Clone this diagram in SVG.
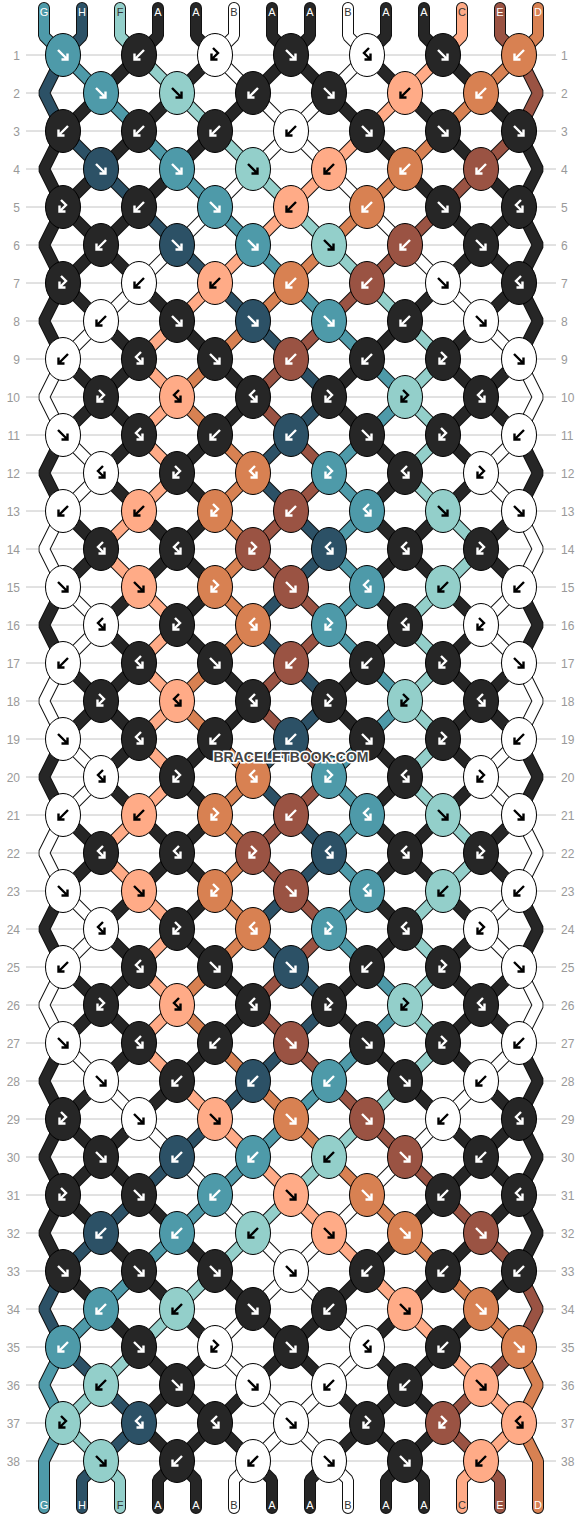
<svg xmlns="http://www.w3.org/2000/svg" xmlns:xlink="http://www.w3.org/1999/xlink" width="582" height="1516" viewBox="0 0 582 1516">
<style>
.ln{stroke:#c4c4c4;stroke-width:1;fill:none}
.rn{font-family:'Liberation Sans',Arial,sans-serif;font-size:12px;fill:#999}
.rl{text-anchor:end}
.tl{font-family:'Liberation Sans',Arial,sans-serif;font-size:11px;text-anchor:middle;fill:#fff}
.tl.d{fill:#333}
.so{fill:none;stroke:#111;stroke-width:12;stroke-linejoin:bevel;stroke-linecap:round}
.sf{fill:none;stroke-width:10;stroke-linejoin:bevel;stroke-linecap:round}
.T{fill:#4e9aa9;stroke:#fff}.N{fill:#2c5166;stroke:#fff}.L{fill:#93cfca;stroke:#000}.K{fill:#262626;stroke:#fff}
.W{fill:#fff;stroke:#000}.S{fill:#ffab87;stroke:#000}.R{fill:#9a5343;stroke:#fff}.O{fill:#d88152;stroke:#fff}
.wm{font-family:'Liberation Sans',Arial,sans-serif;font-weight:bold;font-size:14px;fill:#444;stroke:#fff;stroke-width:3;paint-order:stroke;text-anchor:middle}
</style>
<defs>
<ellipse id="e" rx="17.5" ry="21.5" stroke="#000" stroke-width="1"/>
<path id="f" d="M-5,-5L4.5,4.5M4.5,-1.5V4.5H-1.5" fill="none" stroke-width="2.4"/>
<path id="b" d="M5,-5L-4.5,4.5M-4.5,-1.5V4.5H1.5" fill="none" stroke-width="2.4"/>
<path id="l" d="M-2,-7L3,-2L-3.5,4.5M-3.5,-1.5V4.5H2.5" fill="none" stroke-width="2.4"/>
<path id="r" d="M2,-7L-3,-2L3.5,4.5M3.5,-1.5V4.5H-2.5" fill="none" stroke-width="2.4"/>
<path id="sT" d="M44,8V36L63,55 101,93 139,131 177,169 215,207 253,245 291,283 329,321 367,359 405,397 367,435 329,473 367,511 329,549 367,587 329,625 367,663 405,701 367,739 329,777 367,815 329,853 367,891 329,929 367,967 405,1005 367,1043 329,1081 291,1119 253,1157 215,1195 177,1233 139,1271 101,1309 63,1347 44,1385 63,1423 44,1461V1508"/>
<path id="sN" d="M82,8V36L63,55 44,93 63,131 101,169 139,207 177,245 215,283 253,321 291,359 329,397 291,435 253,473 291,511 329,549 291,587 253,625 291,663 329,701 291,739 253,777 291,815 329,853 291,891 253,929 291,967 329,1005 291,1043 253,1081 215,1119 177,1157 139,1195 101,1233 63,1271 44,1309 63,1347 101,1385 139,1423 101,1461 82,1480V1508"/>
<path id="sL" d="M120,8V36L139,55 177,93 215,131 253,169 291,207 329,245 367,283 405,321 443,359 405,397 443,435 405,473 443,511 481,549 443,587 405,625 443,663 405,701 443,739 405,777 443,815 481,853 443,891 405,929 443,967 405,1005 443,1043 405,1081 367,1119 329,1157 291,1195 253,1233 215,1271 177,1309 139,1347 101,1385 63,1423 101,1461 120,1480V1508"/>
<path id="sa1" d="M158,8V36L139,55 101,93 63,131 44,169 63,207 44,245 63,283 44,321 63,359 101,397 63,435 44,473 63,511 101,549 63,587 44,625 63,663 101,701 63,739 44,777 63,815 101,853 63,891 44,929 63,967 101,1005 63,1043 44,1081 63,1119 44,1157 63,1195 44,1233 63,1271 101,1309 139,1347 177,1385 215,1423 177,1461 158,1480V1508"/>
<path id="sa2" d="M196,8V36L215,55 177,93 139,131 101,169 63,207 101,245 139,283 177,321 215,359 253,397 215,435 177,473 215,511 177,549 215,587 177,625 215,663 253,701 215,739 177,777 215,815 177,853 215,891 177,929 215,967 253,1005 215,1043 177,1081 139,1119 101,1157 63,1195 101,1233 139,1271 177,1309 215,1347 177,1385 139,1423 177,1461 196,1480V1508"/>
<path id="sw1" d="M234,8V36L215,55 253,93 291,131 329,169 367,207 405,245 443,283 481,321 519,359 538,397 519,435 481,473 519,511 538,549 519,587 481,625 519,663 538,701 519,739 481,777 519,815 538,853 519,891 481,929 519,967 538,1005 519,1043 481,1081 443,1119 405,1157 367,1195 329,1233 291,1271 253,1309 215,1347 253,1385 291,1423 329,1461 348,1480V1508"/>
<path id="sa3" d="M272,8V36L291,55 329,93 367,131 405,169 443,207 481,245 519,283 481,321 443,359 481,397 443,435 481,473 443,511 405,549 443,587 481,625 443,663 481,701 443,739 481,777 443,815 405,853 443,891 481,929 443,967 481,1005 443,1043 481,1081 519,1119 481,1157 443,1195 405,1233 367,1271 329,1309 291,1347 253,1385 215,1423 253,1461 272,1480V1508"/>
<path id="sa4" d="M310,8V36L291,55 253,93 215,131 177,169 139,207 101,245 63,283 101,321 139,359 101,397 139,435 101,473 139,511 177,549 139,587 101,625 139,663 101,701 139,739 101,777 139,815 177,853 139,891 101,929 139,967 101,1005 139,1043 101,1081 63,1119 101,1157 139,1195 177,1233 215,1271 253,1309 291,1347 329,1385 367,1423 329,1461 310,1480V1508"/>
<path id="sw2" d="M348,8V36L367,55 329,93 291,131 253,169 215,207 177,245 139,283 101,321 63,359 44,397 63,435 101,473 63,511 44,549 63,587 101,625 63,663 44,701 63,739 101,777 63,815 44,853 63,891 101,929 63,967 44,1005 63,1043 101,1081 139,1119 177,1157 215,1195 253,1233 291,1271 329,1309 367,1347 329,1385 291,1423 253,1461 234,1480V1508"/>
<path id="sa5" d="M386,8V36L367,55 405,93 443,131 481,169 519,207 481,245 443,283 405,321 367,359 329,397 367,435 405,473 367,511 405,549 367,587 405,625 367,663 329,701 367,739 405,777 367,815 405,853 367,891 405,929 367,967 329,1005 367,1043 405,1081 443,1119 481,1157 519,1195 481,1233 443,1271 405,1309 367,1347 405,1385 443,1423 405,1461 386,1480V1508"/>
<path id="sa6" d="M424,8V36L443,55 481,93 519,131 538,169 519,207 538,245 519,283 538,321 519,359 481,397 519,435 538,473 519,511 481,549 519,587 538,625 519,663 481,701 519,739 538,777 519,815 481,853 519,891 538,929 519,967 481,1005 519,1043 538,1081 519,1119 538,1157 519,1195 538,1233 519,1271 481,1309 443,1347 405,1385 367,1423 405,1461 424,1480V1508"/>
<path id="sS" d="M462,8V36L443,55 405,93 367,131 329,169 291,207 253,245 215,283 177,321 139,359 177,397 139,435 177,473 139,511 101,549 139,587 177,625 139,663 177,701 139,739 177,777 139,815 101,853 139,891 177,929 139,967 177,1005 139,1043 177,1081 215,1119 253,1157 291,1195 329,1233 367,1271 405,1309 443,1347 481,1385 519,1423 481,1461 462,1480V1508"/>
<path id="sR" d="M500,8V36L519,55 538,93 519,131 481,169 443,207 405,245 367,283 329,321 291,359 253,397 291,435 329,473 291,511 253,549 291,587 329,625 291,663 253,701 291,739 329,777 291,815 253,853 291,891 329,929 291,967 253,1005 291,1043 329,1081 367,1119 405,1157 443,1195 481,1233 519,1271 538,1309 519,1347 481,1385 443,1423 481,1461 500,1480V1508"/>
<path id="sO" d="M538,8V36L519,55 481,93 443,131 405,169 367,207 329,245 291,283 253,321 215,359 177,397 215,435 253,473 215,511 253,549 215,587 253,625 215,663 177,701 215,739 253,777 215,815 253,853 215,891 253,929 215,967 177,1005 215,1043 253,1081 291,1119 329,1157 367,1195 405,1233 443,1271 481,1309 519,1347 538,1385 519,1423 538,1461V1508"/>
</defs>
<rect width="582" height="1516" fill="#fff"/>
<g id="rowlines">
<path class="ln" d="M26,55H556M26,93H556M26,131H556M26,169H556M26,207H556M26,245H556M26,283H556M26,321H556M26,359H556M26,397H556M26,435H556M26,473H556M26,511H556M26,549H556M26,587H556M26,625H556M26,663H556M26,701H556M26,739H556M26,777H556M26,815H556M26,853H556M26,891H556M26,929H556M26,967H556M26,1005H556M26,1043H556M26,1081H556M26,1119H556M26,1157H556M26,1195H556M26,1233H556M26,1271H556M26,1309H556M26,1347H556M26,1385H556M26,1423H556M26,1461H556"/>
</g>
<g id="rownumbers">
<g class="rn rl">
<text x="20" y="59.5">1</text><text x="20" y="97.5">2</text><text x="20" y="135.5">3</text><text x="20" y="173.5">4</text><text x="20" y="211.5">5</text><text x="20" y="249.5">6</text><text x="20" y="287.5">7</text><text x="20" y="325.5">8</text><text x="20" y="363.5">9</text><text x="20" y="401.5">10</text><text x="20" y="439.5">11</text><text x="20" y="477.5">12</text><text x="20" y="515.5">13</text><text x="20" y="553.5">14</text><text x="20" y="591.5">15</text><text x="20" y="629.5">16</text><text x="20" y="667.5">17</text><text x="20" y="705.5">18</text><text x="20" y="743.5">19</text><text x="20" y="781.5">20</text><text x="20" y="819.5">21</text><text x="20" y="857.5">22</text><text x="20" y="895.5">23</text><text x="20" y="933.5">24</text><text x="20" y="971.5">25</text><text x="20" y="1009.5">26</text><text x="20" y="1047.5">27</text><text x="20" y="1085.5">28</text><text x="20" y="1123.5">29</text><text x="20" y="1161.5">30</text><text x="20" y="1199.5">31</text><text x="20" y="1237.5">32</text><text x="20" y="1275.5">33</text><text x="20" y="1313.5">34</text><text x="20" y="1351.5">35</text><text x="20" y="1389.5">36</text><text x="20" y="1427.5">37</text><text x="20" y="1465.5">38</text>
</g>
<g class="rn">
<text x="561" y="59.5">1</text><text x="561" y="97.5">2</text><text x="561" y="135.5">3</text><text x="561" y="173.5">4</text><text x="561" y="211.5">5</text><text x="561" y="249.5">6</text><text x="561" y="287.5">7</text><text x="561" y="325.5">8</text><text x="561" y="363.5">9</text><text x="561" y="401.5">10</text><text x="561" y="439.5">11</text><text x="561" y="477.5">12</text><text x="561" y="515.5">13</text><text x="561" y="553.5">14</text><text x="561" y="591.5">15</text><text x="561" y="629.5">16</text><text x="561" y="667.5">17</text><text x="561" y="705.5">18</text><text x="561" y="743.5">19</text><text x="561" y="781.5">20</text><text x="561" y="819.5">21</text><text x="561" y="857.5">22</text><text x="561" y="895.5">23</text><text x="561" y="933.5">24</text><text x="561" y="971.5">25</text><text x="561" y="1009.5">26</text><text x="561" y="1047.5">27</text><text x="561" y="1085.5">28</text><text x="561" y="1123.5">29</text><text x="561" y="1161.5">30</text><text x="561" y="1199.5">31</text><text x="561" y="1237.5">32</text><text x="561" y="1275.5">33</text><text x="561" y="1313.5">34</text><text x="561" y="1351.5">35</text><text x="561" y="1389.5">36</text><text x="561" y="1427.5">37</text><text x="561" y="1465.5">38</text>
</g>
</g>
<g id="connectors">
<g class="so">
<use href="#sT"/><use href="#sN"/><use href="#sL"/><use href="#sa1"/><use href="#sa2"/><use href="#sw1"/><use href="#sa3"/><use href="#sa4"/><use href="#sw2"/><use href="#sa5"/><use href="#sa6"/><use href="#sS"/><use href="#sR"/><use href="#sO"/>
</g>
<g class="sf">
<use href="#sT" stroke="#4e9aa9"/><use href="#sN" stroke="#2c5166"/><use href="#sL" stroke="#93cfca"/><use href="#sa1" stroke="#262626"/><use href="#sa2" stroke="#262626"/><use href="#sw1" stroke="#ffffff"/><use href="#sa3" stroke="#262626"/><use href="#sa4" stroke="#262626"/><use href="#sw2" stroke="#ffffff"/><use href="#sa5" stroke="#262626"/><use href="#sa6" stroke="#262626"/><use href="#sS" stroke="#ffab87"/><use href="#sR" stroke="#9a5343"/><use href="#sO" stroke="#d88152"/>
</g>
</g>
<g id="stringlabels">
<text class="tl" x="44" y="16">G</text><text class="tl" x="82" y="16">H</text><text class="tl d" x="120" y="16">F</text><text class="tl" x="158" y="16">A</text><text class="tl" x="196" y="16">A</text><text class="tl d" x="234" y="16">B</text><text class="tl" x="272" y="16">A</text><text class="tl" x="310" y="16">A</text><text class="tl d" x="348" y="16">B</text><text class="tl" x="386" y="16">A</text><text class="tl" x="424" y="16">A</text><text class="tl d" x="462" y="16">C</text><text class="tl" x="500" y="16">E</text><text class="tl" x="538" y="16">D</text>
<text class="tl" x="44" y="1509">G</text><text class="tl" x="82" y="1509">H</text><text class="tl d" x="120" y="1509">F</text><text class="tl" x="158" y="1509">A</text><text class="tl" x="196" y="1509">A</text><text class="tl d" x="234" y="1509">B</text><text class="tl" x="272" y="1509">A</text><text class="tl" x="310" y="1509">A</text><text class="tl d" x="348" y="1509">B</text><text class="tl" x="386" y="1509">A</text><text class="tl" x="424" y="1509">A</text><text class="tl d" x="462" y="1509">C</text><text class="tl" x="500" y="1509">E</text><text class="tl" x="538" y="1509">D</text>
</g>
<g id="knots">
<g id="k1-1" class="T" transform="translate(63,55)"><use href="#e"/><use href="#f"/></g>
<g id="k1-2" class="K" transform="translate(139,55)"><use href="#e"/><use href="#b"/></g>
<g id="k1-3" class="W" transform="translate(215,55)"><use href="#e"/><use href="#l"/></g>
<g id="k1-4" class="K" transform="translate(291,55)"><use href="#e"/><use href="#f"/></g>
<g id="k1-5" class="W" transform="translate(367,55)"><use href="#e"/><use href="#r"/></g>
<g id="k1-6" class="K" transform="translate(443,55)"><use href="#e"/><use href="#f"/></g>
<g id="k1-7" class="O" transform="translate(519,55)"><use href="#e"/><use href="#b"/></g>
<g id="k2-1" class="T" transform="translate(101,93)"><use href="#e"/><use href="#f"/></g>
<g id="k2-2" class="L" transform="translate(177,93)"><use href="#e"/><use href="#f"/></g>
<g id="k2-3" class="K" transform="translate(253,93)"><use href="#e"/><use href="#b"/></g>
<g id="k2-4" class="K" transform="translate(329,93)"><use href="#e"/><use href="#f"/></g>
<g id="k2-5" class="S" transform="translate(405,93)"><use href="#e"/><use href="#b"/></g>
<g id="k2-6" class="O" transform="translate(481,93)"><use href="#e"/><use href="#b"/></g>
<g id="k3-1" class="K" transform="translate(63,131)"><use href="#e"/><use href="#b"/></g>
<g id="k3-2" class="K" transform="translate(139,131)"><use href="#e"/><use href="#b"/></g>
<g id="k3-3" class="K" transform="translate(215,131)"><use href="#e"/><use href="#b"/></g>
<g id="k3-4" class="W" transform="translate(291,131)"><use href="#e"/><use href="#b"/></g>
<g id="k3-5" class="K" transform="translate(367,131)"><use href="#e"/><use href="#f"/></g>
<g id="k3-6" class="K" transform="translate(443,131)"><use href="#e"/><use href="#f"/></g>
<g id="k3-7" class="K" transform="translate(519,131)"><use href="#e"/><use href="#f"/></g>
<g id="k4-1" class="N" transform="translate(101,169)"><use href="#e"/><use href="#f"/></g>
<g id="k4-2" class="T" transform="translate(177,169)"><use href="#e"/><use href="#f"/></g>
<g id="k4-3" class="L" transform="translate(253,169)"><use href="#e"/><use href="#f"/></g>
<g id="k4-4" class="S" transform="translate(329,169)"><use href="#e"/><use href="#b"/></g>
<g id="k4-5" class="O" transform="translate(405,169)"><use href="#e"/><use href="#b"/></g>
<g id="k4-6" class="R" transform="translate(481,169)"><use href="#e"/><use href="#b"/></g>
<g id="k5-1" class="K" transform="translate(63,207)"><use href="#e"/><use href="#l"/></g>
<g id="k5-2" class="K" transform="translate(139,207)"><use href="#e"/><use href="#b"/></g>
<g id="k5-3" class="T" transform="translate(215,207)"><use href="#e"/><use href="#f"/></g>
<g id="k5-4" class="S" transform="translate(291,207)"><use href="#e"/><use href="#b"/></g>
<g id="k5-5" class="O" transform="translate(367,207)"><use href="#e"/><use href="#b"/></g>
<g id="k5-6" class="K" transform="translate(443,207)"><use href="#e"/><use href="#f"/></g>
<g id="k5-7" class="K" transform="translate(519,207)"><use href="#e"/><use href="#r"/></g>
<g id="k6-1" class="K" transform="translate(101,245)"><use href="#e"/><use href="#b"/></g>
<g id="k6-2" class="N" transform="translate(177,245)"><use href="#e"/><use href="#f"/></g>
<g id="k6-3" class="T" transform="translate(253,245)"><use href="#e"/><use href="#f"/></g>
<g id="k6-4" class="L" transform="translate(329,245)"><use href="#e"/><use href="#f"/></g>
<g id="k6-5" class="R" transform="translate(405,245)"><use href="#e"/><use href="#b"/></g>
<g id="k6-6" class="K" transform="translate(481,245)"><use href="#e"/><use href="#f"/></g>
<g id="k7-1" class="K" transform="translate(63,283)"><use href="#e"/><use href="#l"/></g>
<g id="k7-2" class="W" transform="translate(139,283)"><use href="#e"/><use href="#b"/></g>
<g id="k7-3" class="S" transform="translate(215,283)"><use href="#e"/><use href="#b"/></g>
<g id="k7-4" class="O" transform="translate(291,283)"><use href="#e"/><use href="#b"/></g>
<g id="k7-5" class="R" transform="translate(367,283)"><use href="#e"/><use href="#b"/></g>
<g id="k7-6" class="W" transform="translate(443,283)"><use href="#e"/><use href="#f"/></g>
<g id="k7-7" class="K" transform="translate(519,283)"><use href="#e"/><use href="#r"/></g>
<g id="k8-1" class="W" transform="translate(101,321)"><use href="#e"/><use href="#b"/></g>
<g id="k8-2" class="K" transform="translate(177,321)"><use href="#e"/><use href="#f"/></g>
<g id="k8-3" class="N" transform="translate(253,321)"><use href="#e"/><use href="#f"/></g>
<g id="k8-4" class="T" transform="translate(329,321)"><use href="#e"/><use href="#f"/></g>
<g id="k8-5" class="K" transform="translate(405,321)"><use href="#e"/><use href="#b"/></g>
<g id="k8-6" class="W" transform="translate(481,321)"><use href="#e"/><use href="#f"/></g>
<g id="k9-1" class="W" transform="translate(63,359)"><use href="#e"/><use href="#b"/></g>
<g id="k9-2" class="K" transform="translate(139,359)"><use href="#e"/><use href="#r"/></g>
<g id="k9-3" class="K" transform="translate(215,359)"><use href="#e"/><use href="#f"/></g>
<g id="k9-4" class="R" transform="translate(291,359)"><use href="#e"/><use href="#b"/></g>
<g id="k9-5" class="K" transform="translate(367,359)"><use href="#e"/><use href="#b"/></g>
<g id="k9-6" class="K" transform="translate(443,359)"><use href="#e"/><use href="#l"/></g>
<g id="k9-7" class="W" transform="translate(519,359)"><use href="#e"/><use href="#f"/></g>
<g id="k10-1" class="K" transform="translate(101,397)"><use href="#e"/><use href="#l"/></g>
<g id="k10-2" class="S" transform="translate(177,397)"><use href="#e"/><use href="#r"/></g>
<g id="k10-3" class="K" transform="translate(253,397)"><use href="#e"/><use href="#r"/></g>
<g id="k10-4" class="K" transform="translate(329,397)"><use href="#e"/><use href="#l"/></g>
<g id="k10-5" class="L" transform="translate(405,397)"><use href="#e"/><use href="#l"/></g>
<g id="k10-6" class="K" transform="translate(481,397)"><use href="#e"/><use href="#r"/></g>
<g id="k11-1" class="W" transform="translate(63,435)"><use href="#e"/><use href="#f"/></g>
<g id="k11-2" class="K" transform="translate(139,435)"><use href="#e"/><use href="#r"/></g>
<g id="k11-3" class="K" transform="translate(215,435)"><use href="#e"/><use href="#b"/></g>
<g id="k11-4" class="N" transform="translate(291,435)"><use href="#e"/><use href="#b"/></g>
<g id="k11-5" class="K" transform="translate(367,435)"><use href="#e"/><use href="#f"/></g>
<g id="k11-6" class="K" transform="translate(443,435)"><use href="#e"/><use href="#l"/></g>
<g id="k11-7" class="W" transform="translate(519,435)"><use href="#e"/><use href="#b"/></g>
<g id="k12-1" class="W" transform="translate(101,473)"><use href="#e"/><use href="#r"/></g>
<g id="k12-2" class="K" transform="translate(177,473)"><use href="#e"/><use href="#l"/></g>
<g id="k12-3" class="O" transform="translate(253,473)"><use href="#e"/><use href="#r"/></g>
<g id="k12-4" class="T" transform="translate(329,473)"><use href="#e"/><use href="#l"/></g>
<g id="k12-5" class="K" transform="translate(405,473)"><use href="#e"/><use href="#r"/></g>
<g id="k12-6" class="W" transform="translate(481,473)"><use href="#e"/><use href="#l"/></g>
<g id="k13-1" class="W" transform="translate(63,511)"><use href="#e"/><use href="#b"/></g>
<g id="k13-2" class="S" transform="translate(139,511)"><use href="#e"/><use href="#b"/></g>
<g id="k13-3" class="O" transform="translate(215,511)"><use href="#e"/><use href="#l"/></g>
<g id="k13-4" class="R" transform="translate(291,511)"><use href="#e"/><use href="#b"/></g>
<g id="k13-5" class="T" transform="translate(367,511)"><use href="#e"/><use href="#r"/></g>
<g id="k13-6" class="L" transform="translate(443,511)"><use href="#e"/><use href="#f"/></g>
<g id="k13-7" class="W" transform="translate(519,511)"><use href="#e"/><use href="#f"/></g>
<g id="k14-1" class="K" transform="translate(101,549)"><use href="#e"/><use href="#r"/></g>
<g id="k14-2" class="K" transform="translate(177,549)"><use href="#e"/><use href="#r"/></g>
<g id="k14-3" class="R" transform="translate(253,549)"><use href="#e"/><use href="#l"/></g>
<g id="k14-4" class="N" transform="translate(329,549)"><use href="#e"/><use href="#r"/></g>
<g id="k14-5" class="K" transform="translate(405,549)"><use href="#e"/><use href="#r"/></g>
<g id="k14-6" class="K" transform="translate(481,549)"><use href="#e"/><use href="#l"/></g>
<g id="k15-1" class="W" transform="translate(63,587)"><use href="#e"/><use href="#f"/></g>
<g id="k15-2" class="S" transform="translate(139,587)"><use href="#e"/><use href="#f"/></g>
<g id="k15-3" class="O" transform="translate(215,587)"><use href="#e"/><use href="#l"/></g>
<g id="k15-4" class="R" transform="translate(291,587)"><use href="#e"/><use href="#f"/></g>
<g id="k15-5" class="T" transform="translate(367,587)"><use href="#e"/><use href="#r"/></g>
<g id="k15-6" class="L" transform="translate(443,587)"><use href="#e"/><use href="#b"/></g>
<g id="k15-7" class="W" transform="translate(519,587)"><use href="#e"/><use href="#b"/></g>
<g id="k16-1" class="W" transform="translate(101,625)"><use href="#e"/><use href="#r"/></g>
<g id="k16-2" class="K" transform="translate(177,625)"><use href="#e"/><use href="#l"/></g>
<g id="k16-3" class="O" transform="translate(253,625)"><use href="#e"/><use href="#r"/></g>
<g id="k16-4" class="T" transform="translate(329,625)"><use href="#e"/><use href="#l"/></g>
<g id="k16-5" class="K" transform="translate(405,625)"><use href="#e"/><use href="#r"/></g>
<g id="k16-6" class="W" transform="translate(481,625)"><use href="#e"/><use href="#l"/></g>
<g id="k17-1" class="W" transform="translate(63,663)"><use href="#e"/><use href="#b"/></g>
<g id="k17-2" class="K" transform="translate(139,663)"><use href="#e"/><use href="#r"/></g>
<g id="k17-3" class="K" transform="translate(215,663)"><use href="#e"/><use href="#f"/></g>
<g id="k17-4" class="R" transform="translate(291,663)"><use href="#e"/><use href="#b"/></g>
<g id="k17-5" class="K" transform="translate(367,663)"><use href="#e"/><use href="#b"/></g>
<g id="k17-6" class="K" transform="translate(443,663)"><use href="#e"/><use href="#l"/></g>
<g id="k17-7" class="W" transform="translate(519,663)"><use href="#e"/><use href="#f"/></g>
<g id="k18-1" class="K" transform="translate(101,701)"><use href="#e"/><use href="#l"/></g>
<g id="k18-2" class="S" transform="translate(177,701)"><use href="#e"/><use href="#r"/></g>
<g id="k18-3" class="K" transform="translate(253,701)"><use href="#e"/><use href="#r"/></g>
<g id="k18-4" class="K" transform="translate(329,701)"><use href="#e"/><use href="#l"/></g>
<g id="k18-5" class="L" transform="translate(405,701)"><use href="#e"/><use href="#l"/></g>
<g id="k18-6" class="K" transform="translate(481,701)"><use href="#e"/><use href="#r"/></g>
<g id="k19-1" class="W" transform="translate(63,739)"><use href="#e"/><use href="#f"/></g>
<g id="k19-2" class="K" transform="translate(139,739)"><use href="#e"/><use href="#r"/></g>
<g id="k19-3" class="K" transform="translate(215,739)"><use href="#e"/><use href="#b"/></g>
<g id="k19-4" class="N" transform="translate(291,739)"><use href="#e"/><use href="#b"/></g>
<g id="k19-5" class="K" transform="translate(367,739)"><use href="#e"/><use href="#f"/></g>
<g id="k19-6" class="K" transform="translate(443,739)"><use href="#e"/><use href="#l"/></g>
<g id="k19-7" class="W" transform="translate(519,739)"><use href="#e"/><use href="#b"/></g>
<g id="k20-1" class="W" transform="translate(101,777)"><use href="#e"/><use href="#r"/></g>
<g id="k20-2" class="K" transform="translate(177,777)"><use href="#e"/><use href="#l"/></g>
<g id="k20-3" class="O" transform="translate(253,777)"><use href="#e"/><use href="#r"/></g>
<g id="k20-4" class="T" transform="translate(329,777)"><use href="#e"/><use href="#l"/></g>
<g id="k20-5" class="K" transform="translate(405,777)"><use href="#e"/><use href="#r"/></g>
<g id="k20-6" class="W" transform="translate(481,777)"><use href="#e"/><use href="#l"/></g>
<g id="k21-1" class="W" transform="translate(63,815)"><use href="#e"/><use href="#b"/></g>
<g id="k21-2" class="S" transform="translate(139,815)"><use href="#e"/><use href="#b"/></g>
<g id="k21-3" class="O" transform="translate(215,815)"><use href="#e"/><use href="#l"/></g>
<g id="k21-4" class="R" transform="translate(291,815)"><use href="#e"/><use href="#b"/></g>
<g id="k21-5" class="T" transform="translate(367,815)"><use href="#e"/><use href="#r"/></g>
<g id="k21-6" class="L" transform="translate(443,815)"><use href="#e"/><use href="#f"/></g>
<g id="k21-7" class="W" transform="translate(519,815)"><use href="#e"/><use href="#f"/></g>
<g id="k22-1" class="K" transform="translate(101,853)"><use href="#e"/><use href="#r"/></g>
<g id="k22-2" class="K" transform="translate(177,853)"><use href="#e"/><use href="#r"/></g>
<g id="k22-3" class="R" transform="translate(253,853)"><use href="#e"/><use href="#l"/></g>
<g id="k22-4" class="N" transform="translate(329,853)"><use href="#e"/><use href="#r"/></g>
<g id="k22-5" class="K" transform="translate(405,853)"><use href="#e"/><use href="#r"/></g>
<g id="k22-6" class="K" transform="translate(481,853)"><use href="#e"/><use href="#l"/></g>
<g id="k23-1" class="W" transform="translate(63,891)"><use href="#e"/><use href="#f"/></g>
<g id="k23-2" class="S" transform="translate(139,891)"><use href="#e"/><use href="#f"/></g>
<g id="k23-3" class="O" transform="translate(215,891)"><use href="#e"/><use href="#l"/></g>
<g id="k23-4" class="R" transform="translate(291,891)"><use href="#e"/><use href="#f"/></g>
<g id="k23-5" class="T" transform="translate(367,891)"><use href="#e"/><use href="#r"/></g>
<g id="k23-6" class="L" transform="translate(443,891)"><use href="#e"/><use href="#b"/></g>
<g id="k23-7" class="W" transform="translate(519,891)"><use href="#e"/><use href="#b"/></g>
<g id="k24-1" class="W" transform="translate(101,929)"><use href="#e"/><use href="#r"/></g>
<g id="k24-2" class="K" transform="translate(177,929)"><use href="#e"/><use href="#l"/></g>
<g id="k24-3" class="O" transform="translate(253,929)"><use href="#e"/><use href="#r"/></g>
<g id="k24-4" class="T" transform="translate(329,929)"><use href="#e"/><use href="#l"/></g>
<g id="k24-5" class="K" transform="translate(405,929)"><use href="#e"/><use href="#r"/></g>
<g id="k24-6" class="W" transform="translate(481,929)"><use href="#e"/><use href="#l"/></g>
<g id="k25-1" class="W" transform="translate(63,967)"><use href="#e"/><use href="#b"/></g>
<g id="k25-2" class="K" transform="translate(139,967)"><use href="#e"/><use href="#r"/></g>
<g id="k25-3" class="K" transform="translate(215,967)"><use href="#e"/><use href="#f"/></g>
<g id="k25-4" class="N" transform="translate(291,967)"><use href="#e"/><use href="#f"/></g>
<g id="k25-5" class="K" transform="translate(367,967)"><use href="#e"/><use href="#b"/></g>
<g id="k25-6" class="K" transform="translate(443,967)"><use href="#e"/><use href="#l"/></g>
<g id="k25-7" class="W" transform="translate(519,967)"><use href="#e"/><use href="#f"/></g>
<g id="k26-1" class="K" transform="translate(101,1005)"><use href="#e"/><use href="#l"/></g>
<g id="k26-2" class="S" transform="translate(177,1005)"><use href="#e"/><use href="#r"/></g>
<g id="k26-3" class="K" transform="translate(253,1005)"><use href="#e"/><use href="#r"/></g>
<g id="k26-4" class="K" transform="translate(329,1005)"><use href="#e"/><use href="#l"/></g>
<g id="k26-5" class="L" transform="translate(405,1005)"><use href="#e"/><use href="#l"/></g>
<g id="k26-6" class="K" transform="translate(481,1005)"><use href="#e"/><use href="#r"/></g>
<g id="k27-1" class="W" transform="translate(63,1043)"><use href="#e"/><use href="#f"/></g>
<g id="k27-2" class="K" transform="translate(139,1043)"><use href="#e"/><use href="#r"/></g>
<g id="k27-3" class="K" transform="translate(215,1043)"><use href="#e"/><use href="#b"/></g>
<g id="k27-4" class="R" transform="translate(291,1043)"><use href="#e"/><use href="#f"/></g>
<g id="k27-5" class="K" transform="translate(367,1043)"><use href="#e"/><use href="#f"/></g>
<g id="k27-6" class="K" transform="translate(443,1043)"><use href="#e"/><use href="#l"/></g>
<g id="k27-7" class="W" transform="translate(519,1043)"><use href="#e"/><use href="#b"/></g>
<g id="k28-1" class="W" transform="translate(101,1081)"><use href="#e"/><use href="#f"/></g>
<g id="k28-2" class="K" transform="translate(177,1081)"><use href="#e"/><use href="#b"/></g>
<g id="k28-3" class="N" transform="translate(253,1081)"><use href="#e"/><use href="#b"/></g>
<g id="k28-4" class="T" transform="translate(329,1081)"><use href="#e"/><use href="#b"/></g>
<g id="k28-5" class="K" transform="translate(405,1081)"><use href="#e"/><use href="#f"/></g>
<g id="k28-6" class="W" transform="translate(481,1081)"><use href="#e"/><use href="#b"/></g>
<g id="k29-1" class="K" transform="translate(63,1119)"><use href="#e"/><use href="#l"/></g>
<g id="k29-2" class="W" transform="translate(139,1119)"><use href="#e"/><use href="#f"/></g>
<g id="k29-3" class="S" transform="translate(215,1119)"><use href="#e"/><use href="#f"/></g>
<g id="k29-4" class="O" transform="translate(291,1119)"><use href="#e"/><use href="#f"/></g>
<g id="k29-5" class="R" transform="translate(367,1119)"><use href="#e"/><use href="#f"/></g>
<g id="k29-6" class="W" transform="translate(443,1119)"><use href="#e"/><use href="#b"/></g>
<g id="k29-7" class="K" transform="translate(519,1119)"><use href="#e"/><use href="#r"/></g>
<g id="k30-1" class="K" transform="translate(101,1157)"><use href="#e"/><use href="#f"/></g>
<g id="k30-2" class="N" transform="translate(177,1157)"><use href="#e"/><use href="#b"/></g>
<g id="k30-3" class="T" transform="translate(253,1157)"><use href="#e"/><use href="#b"/></g>
<g id="k30-4" class="L" transform="translate(329,1157)"><use href="#e"/><use href="#b"/></g>
<g id="k30-5" class="R" transform="translate(405,1157)"><use href="#e"/><use href="#f"/></g>
<g id="k30-6" class="K" transform="translate(481,1157)"><use href="#e"/><use href="#b"/></g>
<g id="k31-1" class="K" transform="translate(63,1195)"><use href="#e"/><use href="#l"/></g>
<g id="k31-2" class="K" transform="translate(139,1195)"><use href="#e"/><use href="#f"/></g>
<g id="k31-3" class="T" transform="translate(215,1195)"><use href="#e"/><use href="#b"/></g>
<g id="k31-4" class="S" transform="translate(291,1195)"><use href="#e"/><use href="#f"/></g>
<g id="k31-5" class="O" transform="translate(367,1195)"><use href="#e"/><use href="#f"/></g>
<g id="k31-6" class="K" transform="translate(443,1195)"><use href="#e"/><use href="#b"/></g>
<g id="k31-7" class="K" transform="translate(519,1195)"><use href="#e"/><use href="#r"/></g>
<g id="k32-1" class="N" transform="translate(101,1233)"><use href="#e"/><use href="#b"/></g>
<g id="k32-2" class="T" transform="translate(177,1233)"><use href="#e"/><use href="#b"/></g>
<g id="k32-3" class="L" transform="translate(253,1233)"><use href="#e"/><use href="#b"/></g>
<g id="k32-4" class="S" transform="translate(329,1233)"><use href="#e"/><use href="#f"/></g>
<g id="k32-5" class="O" transform="translate(405,1233)"><use href="#e"/><use href="#f"/></g>
<g id="k32-6" class="R" transform="translate(481,1233)"><use href="#e"/><use href="#f"/></g>
<g id="k33-1" class="K" transform="translate(63,1271)"><use href="#e"/><use href="#f"/></g>
<g id="k33-2" class="K" transform="translate(139,1271)"><use href="#e"/><use href="#f"/></g>
<g id="k33-3" class="K" transform="translate(215,1271)"><use href="#e"/><use href="#f"/></g>
<g id="k33-4" class="W" transform="translate(291,1271)"><use href="#e"/><use href="#f"/></g>
<g id="k33-5" class="K" transform="translate(367,1271)"><use href="#e"/><use href="#b"/></g>
<g id="k33-6" class="K" transform="translate(443,1271)"><use href="#e"/><use href="#b"/></g>
<g id="k33-7" class="K" transform="translate(519,1271)"><use href="#e"/><use href="#b"/></g>
<g id="k34-1" class="T" transform="translate(101,1309)"><use href="#e"/><use href="#b"/></g>
<g id="k34-2" class="L" transform="translate(177,1309)"><use href="#e"/><use href="#b"/></g>
<g id="k34-3" class="K" transform="translate(253,1309)"><use href="#e"/><use href="#f"/></g>
<g id="k34-4" class="K" transform="translate(329,1309)"><use href="#e"/><use href="#b"/></g>
<g id="k34-5" class="S" transform="translate(405,1309)"><use href="#e"/><use href="#f"/></g>
<g id="k34-6" class="O" transform="translate(481,1309)"><use href="#e"/><use href="#f"/></g>
<g id="k35-1" class="T" transform="translate(63,1347)"><use href="#e"/><use href="#b"/></g>
<g id="k35-2" class="K" transform="translate(139,1347)"><use href="#e"/><use href="#f"/></g>
<g id="k35-3" class="W" transform="translate(215,1347)"><use href="#e"/><use href="#l"/></g>
<g id="k35-4" class="K" transform="translate(291,1347)"><use href="#e"/><use href="#f"/></g>
<g id="k35-5" class="W" transform="translate(367,1347)"><use href="#e"/><use href="#r"/></g>
<g id="k35-6" class="K" transform="translate(443,1347)"><use href="#e"/><use href="#b"/></g>
<g id="k35-7" class="O" transform="translate(519,1347)"><use href="#e"/><use href="#f"/></g>
<g id="k36-1" class="L" transform="translate(101,1385)"><use href="#e"/><use href="#b"/></g>
<g id="k36-2" class="K" transform="translate(177,1385)"><use href="#e"/><use href="#f"/></g>
<g id="k36-3" class="W" transform="translate(253,1385)"><use href="#e"/><use href="#f"/></g>
<g id="k36-4" class="W" transform="translate(329,1385)"><use href="#e"/><use href="#b"/></g>
<g id="k36-5" class="K" transform="translate(405,1385)"><use href="#e"/><use href="#b"/></g>
<g id="k36-6" class="S" transform="translate(481,1385)"><use href="#e"/><use href="#f"/></g>
<g id="k37-1" class="L" transform="translate(63,1423)"><use href="#e"/><use href="#l"/></g>
<g id="k37-2" class="N" transform="translate(139,1423)"><use href="#e"/><use href="#r"/></g>
<g id="k37-3" class="K" transform="translate(215,1423)"><use href="#e"/><use href="#r"/></g>
<g id="k37-4" class="W" transform="translate(291,1423)"><use href="#e"/><use href="#f"/></g>
<g id="k37-5" class="K" transform="translate(367,1423)"><use href="#e"/><use href="#l"/></g>
<g id="k37-6" class="R" transform="translate(443,1423)"><use href="#e"/><use href="#l"/></g>
<g id="k37-7" class="S" transform="translate(519,1423)"><use href="#e"/><use href="#r"/></g>
<g id="k38-1" class="L" transform="translate(101,1461)"><use href="#e"/><use href="#f"/></g>
<g id="k38-2" class="K" transform="translate(177,1461)"><use href="#e"/><use href="#b"/></g>
<g id="k38-3" class="W" transform="translate(253,1461)"><use href="#e"/><use href="#b"/></g>
<g id="k38-4" class="W" transform="translate(329,1461)"><use href="#e"/><use href="#f"/></g>
<g id="k38-5" class="K" transform="translate(405,1461)"><use href="#e"/><use href="#f"/></g>
<g id="k38-6" class="S" transform="translate(481,1461)"><use href="#e"/><use href="#b"/></g>
</g>
<text class="wm" x="291" y="762" textLength="155" lengthAdjust="spacingAndGlyphs">BRACELETBOOK.COM</text>
</svg>
